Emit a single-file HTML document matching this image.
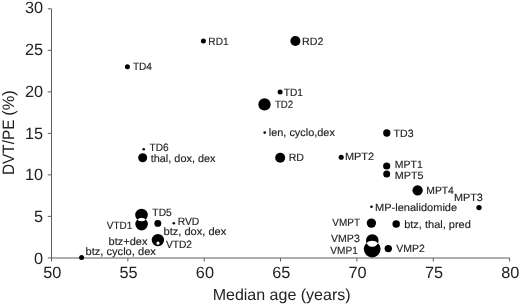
<!DOCTYPE html>
<html><head><meta charset="utf-8"><style>
html,body{margin:0;padding:0;background:#fff;}
svg{display:block;filter:grayscale(1);text-rendering:geometricPrecision;font-family:"Liberation Sans",sans-serif;}
</style></head><body>
<svg width="520" height="306" viewBox="0 0 520 306">
<rect width="520" height="306" fill="#fff"/>
<line x1="51.5" y1="8.81" x2="51.5" y2="258" stroke="#5e5e5e" stroke-width="1"/>
<line x1="51.5" y1="258" x2="509.60" y2="258" stroke="#5e5e5e" stroke-width="1"/>
<line x1="47.8" y1="257.90" x2="51.5" y2="257.90" stroke="#5e5e5e" stroke-width="1"/>
<text x="43" y="264.10" text-anchor="end" font-size="16.3" fill="#222">0</text>
<line x1="47.8" y1="216.38" x2="51.5" y2="216.38" stroke="#5e5e5e" stroke-width="1"/>
<text x="43" y="222.29" text-anchor="end" font-size="16.3" fill="#222">5</text>
<line x1="47.8" y1="174.87" x2="51.5" y2="174.87" stroke="#5e5e5e" stroke-width="1"/>
<text x="43" y="180.47" text-anchor="end" font-size="16.3" fill="#222">10</text>
<line x1="47.8" y1="133.35" x2="51.5" y2="133.35" stroke="#5e5e5e" stroke-width="1"/>
<text x="43" y="138.66" text-anchor="end" font-size="16.3" fill="#222">15</text>
<line x1="47.8" y1="91.84" x2="51.5" y2="91.84" stroke="#5e5e5e" stroke-width="1"/>
<text x="43" y="96.84" text-anchor="end" font-size="16.3" fill="#222">20</text>
<line x1="47.8" y1="50.32" x2="51.5" y2="50.32" stroke="#5e5e5e" stroke-width="1"/>
<text x="43" y="55.03" text-anchor="end" font-size="16.3" fill="#222">25</text>
<line x1="47.8" y1="8.81" x2="51.5" y2="8.81" stroke="#5e5e5e" stroke-width="1"/>
<text x="43" y="13.21" text-anchor="end" font-size="16.3" fill="#222">30</text>
<line x1="51.50" y1="258" x2="51.50" y2="261.5" stroke="#5e5e5e" stroke-width="1"/>
<text x="52.20" y="278.2" text-anchor="middle" font-size="16.3" fill="#222">50</text>
<line x1="127.85" y1="258" x2="127.85" y2="261.5" stroke="#5e5e5e" stroke-width="1"/>
<text x="128.55" y="278.2" text-anchor="middle" font-size="16.3" fill="#222">55</text>
<line x1="204.20" y1="258" x2="204.20" y2="261.5" stroke="#5e5e5e" stroke-width="1"/>
<text x="204.90" y="278.2" text-anchor="middle" font-size="16.3" fill="#222">60</text>
<line x1="280.55" y1="258" x2="280.55" y2="261.5" stroke="#5e5e5e" stroke-width="1"/>
<text x="281.25" y="278.2" text-anchor="middle" font-size="16.3" fill="#222">65</text>
<line x1="356.90" y1="258" x2="356.90" y2="261.5" stroke="#5e5e5e" stroke-width="1"/>
<text x="357.60" y="278.2" text-anchor="middle" font-size="16.3" fill="#222">70</text>
<line x1="433.25" y1="258" x2="433.25" y2="261.5" stroke="#5e5e5e" stroke-width="1"/>
<text x="433.95" y="278.2" text-anchor="middle" font-size="16.3" fill="#222">75</text>
<line x1="509.60" y1="258" x2="509.60" y2="261.5" stroke="#5e5e5e" stroke-width="1"/>
<text x="510.30" y="278.2" text-anchor="middle" font-size="16.3" fill="#222">80</text>
<text font-size="16.5" fill="#222" transform="translate(14.2,175.06) rotate(-90) scale(0.9316,1)">DVT/PE</text>
<text font-size="16.5" fill="#222" transform="translate(14.2,115.71) rotate(-90) scale(0.9910,1)">(%)</text>
<text x="212.7" y="300" font-size="16" fill="#222">Median age (years)</text>
<circle cx="203.4" cy="40.9" r="2.50" fill="#000"/>
<circle cx="295.4" cy="41.0" r="5.00" fill="#000"/>
<circle cx="127.4" cy="66.7" r="2.50" fill="#000"/>
<circle cx="280.1" cy="91.9" r="2.50" fill="#000"/>
<circle cx="264.5" cy="104.4" r="6.15" fill="#000"/>
<circle cx="264.7" cy="132.6" r="1.30" fill="#000"/>
<circle cx="386.8" cy="133.0" r="3.65" fill="#000"/>
<circle cx="143.7" cy="149.3" r="1.30" fill="#000"/>
<circle cx="142.7" cy="157.8" r="4.50" fill="#000"/>
<circle cx="280.2" cy="157.7" r="5.00" fill="#000"/>
<circle cx="341.2" cy="157.2" r="2.55" fill="#000"/>
<circle cx="386.7" cy="166.0" r="3.60" fill="#000"/>
<circle cx="386.7" cy="174.1" r="3.50" fill="#000"/>
<circle cx="417.6" cy="190.3" r="5.15" fill="#000"/>
<circle cx="479.0" cy="207.6" r="2.65" fill="#000"/>
<circle cx="371.5" cy="206.8" r="1.30" fill="#000"/>
<circle cx="371.4" cy="223.1" r="4.65" fill="#000"/>
<circle cx="396.2" cy="223.9" r="3.75" fill="#000"/>
<circle cx="388.3" cy="248.6" r="3.70" fill="#000"/>
<circle cx="157.8" cy="223.4" r="3.45" fill="#000"/>
<circle cx="173.8" cy="223.2" r="1.30" fill="#000"/>
<circle cx="81.6" cy="257.4" r="2.50" fill="#000"/>
<path fill="#000" fill-rule="evenodd" d="M135.20,215.00a6.30,6.30 0 1,0 12.60,0a6.30,6.30 0 1,0 -12.60,0ZM135.30,224.10a6.30,6.30 0 1,0 12.60,0a6.30,6.30 0 1,0 -12.60,0Z"/>
<path fill="#000" fill-rule="evenodd" d="M366.00,240.50a6.30,6.30 0 1,0 12.60,0a6.30,6.30 0 1,0 -12.60,0ZM363.80,249.10a8.40,8.40 0 1,0 16.80,0a8.40,8.40 0 1,0 -16.80,0Z"/>
<path fill="#000" fill-rule="evenodd" d="M151.70,240.10a6.20,6.20 0 1,0 12.40,0a6.20,6.20 0 1,0 -12.40,0ZM156.40,243.20a1.60,1.60 0 1,0 3.20,0a1.60,1.60 0 1,0 -3.20,0Z"/>
<text font-size="10.6" fill="#1e1e1e" stroke="#1e1e1e" stroke-width="0.15" transform="translate(208.37,44.60) scale(0.9540,1)">RD1</text>
<text font-size="10.6" fill="#1e1e1e" stroke="#1e1e1e" stroke-width="0.15" transform="translate(302.12,44.80) scale(1.0101,1)">RD2</text>
<text font-size="10.6" fill="#1e1e1e" stroke="#1e1e1e" stroke-width="0.15" transform="translate(132.88,70.30) scale(0.9547,1)">TD4</text>
<text font-size="10.6" fill="#1e1e1e" stroke="#1e1e1e" stroke-width="0.15" transform="translate(283.78,95.80) scale(0.9600,1)">TD1</text>
<text font-size="10.6" fill="#1e1e1e" stroke="#1e1e1e" stroke-width="0.15" transform="translate(274.89,108.00) scale(0.9138,1)">TD2</text>
<text font-size="10.6" fill="#1e1e1e" stroke="#1e1e1e" stroke-width="0.15" transform="translate(268.77,135.60) scale(1.0300,1)">len, cyclo,dex</text>
<text font-size="10.6" fill="#1e1e1e" stroke="#1e1e1e" stroke-width="0.15" transform="translate(393.57,137.00) scale(0.9988,1)">TD3</text>
<text font-size="10.6" fill="#1e1e1e" stroke="#1e1e1e" stroke-width="0.15" transform="translate(149.48,150.60) scale(0.9522,1)">TD6</text>
<text font-size="10.6" fill="#1e1e1e" stroke="#1e1e1e" stroke-width="0.15" transform="translate(150.74,161.90) scale(1.0275,1)">thal, dox, dex</text>
<text font-size="10.6" fill="#1e1e1e" stroke="#1e1e1e" stroke-width="0.15" transform="translate(288.73,161.30) scale(0.9980,1)">RD</text>
<text font-size="10.6" fill="#1e1e1e" stroke="#1e1e1e" stroke-width="0.15" transform="translate(344.90,160.40) scale(1.0309,1)">MPT2</text>
<text font-size="10.6" fill="#1e1e1e" stroke="#1e1e1e" stroke-width="0.15" transform="translate(394.84,168.20) scale(0.9858,1)">MPT1</text>
<text font-size="10.6" fill="#1e1e1e" stroke="#1e1e1e" stroke-width="0.15" transform="translate(394.82,178.50) scale(1.0165,1)">MPT5</text>
<text font-size="10.6" fill="#1e1e1e" stroke="#1e1e1e" stroke-width="0.15" transform="translate(426.25,194.00) scale(0.9781,1)">MPT4</text>
<text font-size="10.6" fill="#1e1e1e" stroke="#1e1e1e" stroke-width="0.15" transform="translate(454.01,201.20) scale(1.0210,1)">MPT3</text>
<text font-size="10.6" fill="#1e1e1e" stroke="#1e1e1e" stroke-width="0.15" transform="translate(375.00,210.60) scale(1.0411,1)">MP-lenalidomide</text>
<text font-size="10.6" fill="#1e1e1e" stroke="#1e1e1e" stroke-width="0.15" transform="translate(332.35,226.40) scale(0.9400,1)">VMPT</text>
<text font-size="10.6" fill="#1e1e1e" stroke="#1e1e1e" stroke-width="0.15" transform="translate(404.18,227.70) scale(1.0388,1)">btz, thal, pred</text>
<text font-size="10.6" fill="#1e1e1e" stroke="#1e1e1e" stroke-width="0.15" transform="translate(331.05,241.50) scale(0.9949,1)">VMP3</text>
<text font-size="10.6" fill="#1e1e1e" stroke="#1e1e1e" stroke-width="0.15" transform="translate(330.35,254.00) scale(0.9544,1)">VMP1</text>
<text font-size="10.6" fill="#1e1e1e" stroke="#1e1e1e" stroke-width="0.15" transform="translate(396.25,252.30) scale(0.9865,1)">VMP2</text>
<text font-size="10.6" fill="#1e1e1e" stroke="#1e1e1e" stroke-width="0.15" transform="translate(152.37,216.30) scale(0.9667,1)">TD5</text>
<text font-size="10.6" fill="#1e1e1e" stroke="#1e1e1e" stroke-width="0.15" transform="translate(106.85,228.70) scale(0.9426,1)">VTD1</text>
<text font-size="10.6" fill="#1e1e1e" stroke="#1e1e1e" stroke-width="0.15" transform="translate(163.48,235.20) scale(1.0456,1)">btz, dox, dex</text>
<text font-size="10.6" fill="#1e1e1e" stroke="#1e1e1e" stroke-width="0.15" transform="translate(177.65,224.90) scale(0.9756,1)">RVD</text>
<text font-size="10.6" fill="#1e1e1e" stroke="#1e1e1e" stroke-width="0.15" transform="translate(165.95,247.90) scale(0.9619,1)">VTD2</text>
<text font-size="10.6" fill="#1e1e1e" stroke="#1e1e1e" stroke-width="0.15" transform="translate(108.58,245.20) scale(1.0379,1)">btz+dex</text>
<text font-size="10.6" fill="#1e1e1e" stroke="#1e1e1e" stroke-width="0.15" transform="translate(85.48,255.30) scale(1.0489,1)">btz, cyclo, dex</text>
</svg>
</body></html>
